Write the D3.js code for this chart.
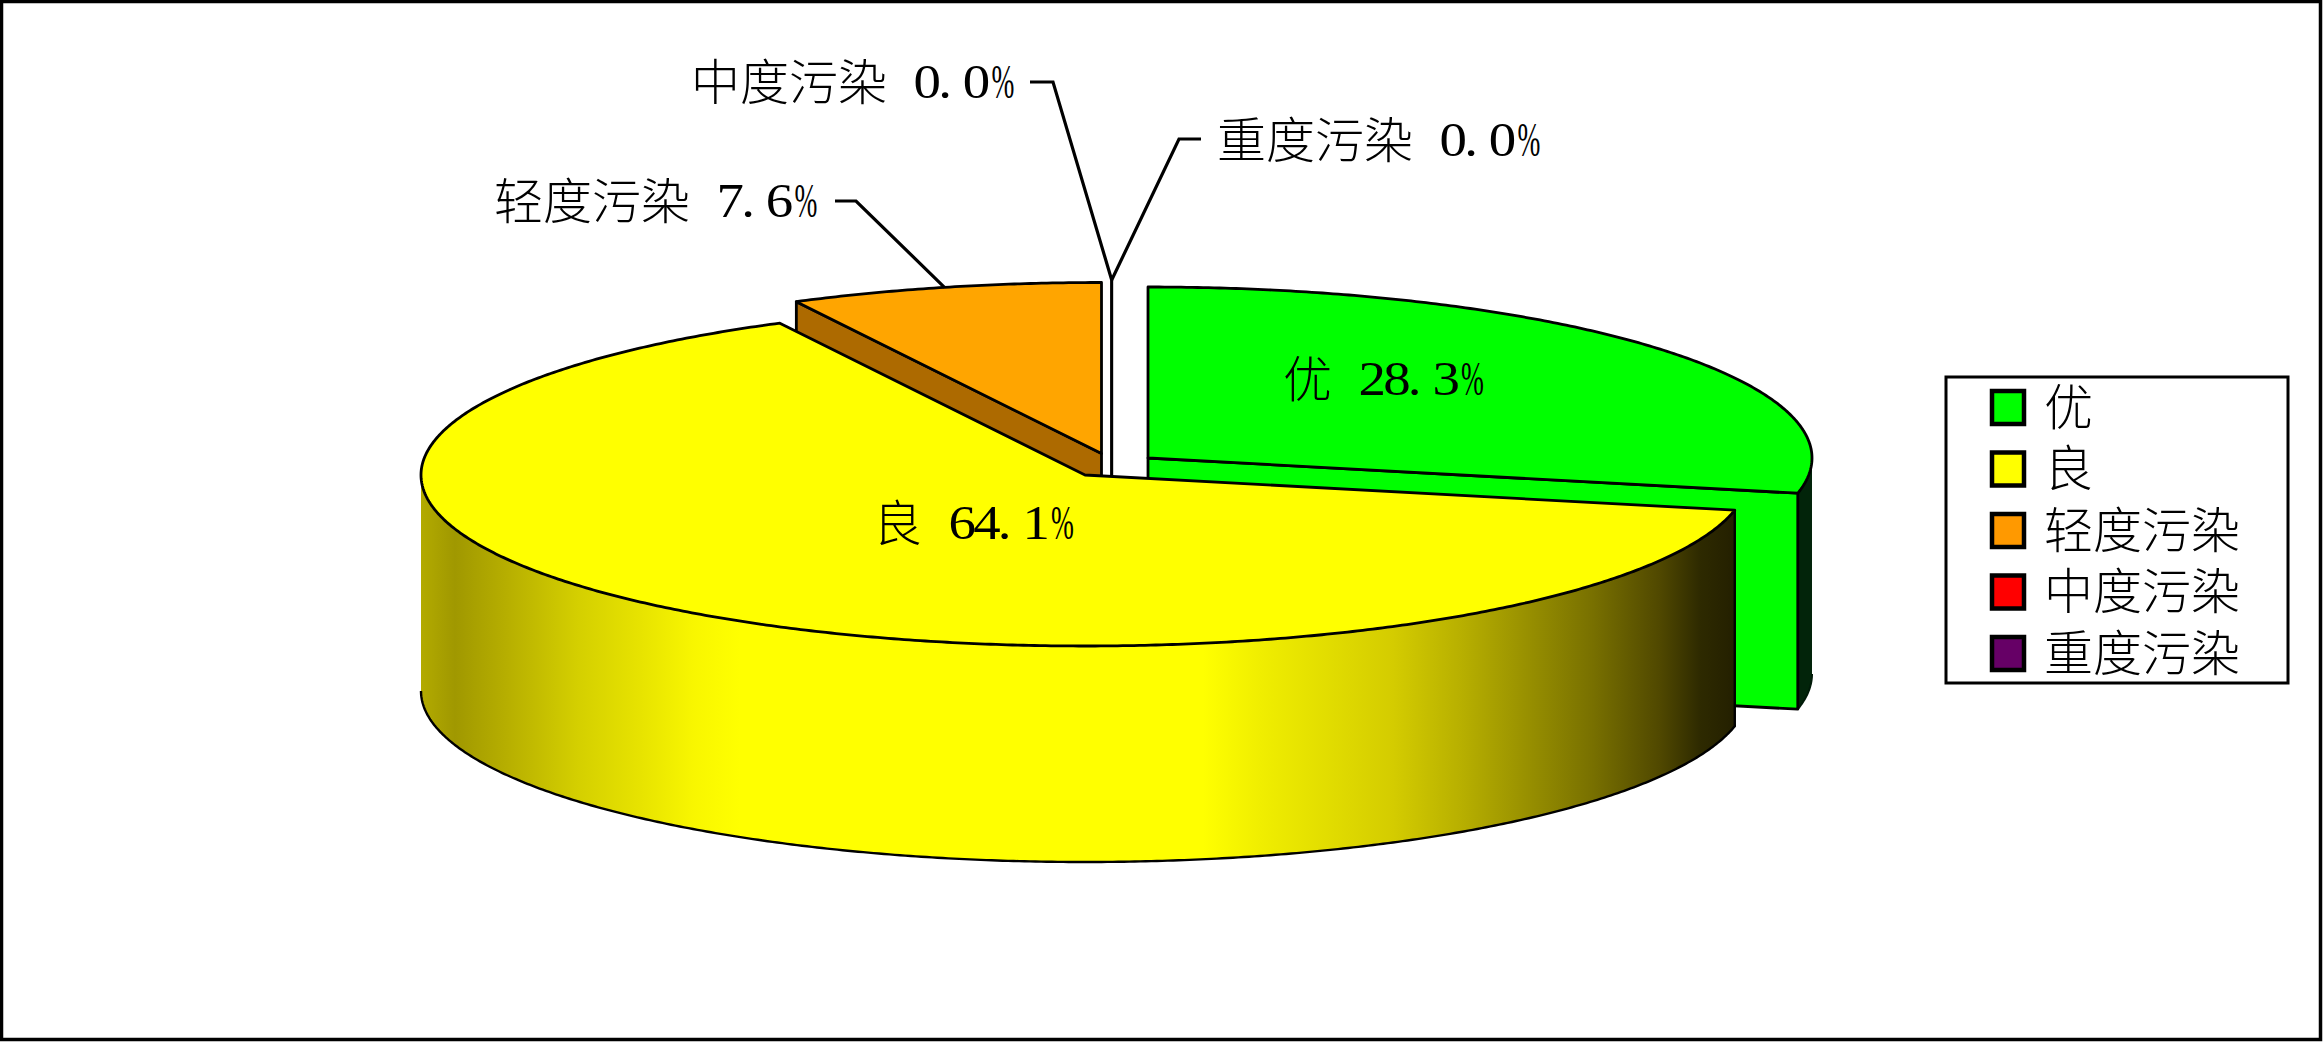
<!DOCTYPE html>
<html lang="zh">
<head>
    <meta charset="UTF-8" />
    <title>空气质量等级分布</title>
    <script src="https://d3js.org/d3.v7.min.js"></script>
    <style>
        html, body { margin: 0; padding: 0; background: #fff; overflow: hidden; }
        svg { display: block; }
        .cjk { font-family: "Liberation Serif", "Noto Sans CJK SC", sans-serif; font-size: 49px; font-weight: 300; fill: #000; }
        .num { font-family: "Liberation Serif", serif; font-size: 49px; fill: #000; }
    </style>
</head>
<body>
<div id="chart"></div>
<script>
    // Data
    const categories = ["优", "良", "轻度污染", "中度污染", "重度污染"];
    const values = [28.3, 64.1, 7.6, 0, 0];
    const colors = ["#00ff00", "#ffff00", "#ffa500", "#ff0000", "#660066"];
    const legendColors = ["#00ff00", "#ffff00", "#ff9900", "#ff0000", "#660066"];

    // Pie geometry
    const width = 2324, height = 1042;
    const rx = 664, ry = 171, depth = 216;
    const sliceCentres = [[1148, 458], [1085, 475], [1101.5, 453.5], [1111.7, 451], [1111.7, 451]];

    // Label placement: left edge and baseline, plus the elbow of the leader line
    const labelPos = [[1283, 395], [873, 539], [494, 217], [691, 98], [1217, 156]];
    const leaderElbow = [null, null, [[835, 201], [856, 201]], [[1030, 82], [1053, 82]], [[1201, 139], [1179, 139]]];

    const svg = d3.select("#chart").append("svg").attr("width", width).attr("height", height);
    svg.append("rect")
        .attr("x", 1.5).attr("y", 1.5).attr("width", 2319).attr("height", 1038)
        .attr("fill", "#fff").attr("stroke", "#000").attr("stroke-width", 3.5);

    // Horizontal shading of the yellow wall
    const shade = svg.append("defs").append("linearGradient")
        .attr("id", "yellowWall").attr("gradientUnits", "userSpaceOnUse")
        .attr("x1", 420).attr("x2", 1733).attr("y1", 0).attr("y2", 0);
    [[420, "#b3ab00"], [455, "#a09800"], [510, "#b8b000"], [577, "#d4cf00"], [643, "#e8e400"], [693, "#f8f600"], [740, "#ffff00"],
     [1203, "#ffff00"], [1260, "#f0ee00"], [1393, "#d4cc00"], [1460, "#b8b000"], [1527, "#989000"],
     [1593, "#787000"], [1660, "#504800"], [1700, "#2e2a00"], [1733, "#242000"]]
        .forEach(([x, c]) => shade.append("stop").attr("offset", (x - 420) / (1733 - 420)).attr("stop-color", c));

    const slices = d3.pie().sort(null).value(d => d)(values);
    const xScale = d3.scaleLinear().domain([-1, 1]).range([-rx, rx]);
    const yScale = d3.scaleLinear().domain([-1, 1]).range([-ry, ry]);
    const line = d3.line();

    // Point on the rim of slice i at clock angle a (0 = straight up, clockwise)
    function rim(i, a, drop = 0) {
        const c = sliceCentres[i];
        return [c[0] + xScale(Math.sin(a)), c[1] + yScale(-Math.cos(a)) + drop];
    }
    function arcPoints(i, a0, a1, drop = 0) {
        const n = Math.max(2, Math.ceil(Math.abs(a1 - a0) * 120));
        return d3.range(n + 1).map(k => rim(i, a0 + (a1 - a0) * k / n, drop));
    }
    function below(p) { return [p[0], p[1] + depth]; }

    function drawWall(i, a0, a1, fill) {
        const top = arcPoints(i, a0, a1);
        const bottom = arcPoints(i, a0, a1, depth);
        svg.append("path").attr("d", line(top.concat(bottom.slice().reverse())) + "Z").attr("fill", fill);
        return bottom;
    }
    function drawCut(i, a, fill) {
        const c = sliceCentres[i], p = rim(i, a);
        svg.append("path").attr("d", line([c, p, below(p), below(c)]) + "Z")
            .attr("fill", fill).attr("stroke", "#000").attr("stroke-width", 2.8).attr("stroke-linejoin", "round");
    }
    function drawTop(i) {
        const s = slices[i], c = sliceCentres[i];
        svg.append("path").attr("d", line([c].concat(arcPoints(i, s.startAngle, s.endAngle))) + "Z")
            .attr("fill", colors[i]).attr("stroke", "#000").attr("stroke-width", 2.8).attr("stroke-linejoin", "round");
    }

    // 优: dark outer wall, cut face, top
    const greenEnd = slices[0].endAngle;
    const greenBottom = drawWall(0, Math.PI / 2, greenEnd, "#02240a");
    svg.append("path").attr("d", line(greenBottom)).attr("fill", "none").attr("stroke", "#001a08").attr("stroke-width", 2);
    drawCut(0, greenEnd, colors[0]);
    drawTop(0);

    // 轻度污染: brown cut face, top
    drawCut(2, slices[2].startAngle, "#ad6a00");
    drawTop(2);

    // the two empty slices collapse to one line
    [3, 4].forEach(i => {
        const c = sliceCentres[i];
        svg.append("path").attr("d", line([below(c), c, rim(i, slices[i].startAngle)]))
            .attr("fill", "none").attr("stroke", "#000").attr("stroke-width", 2.8);
    });

    // 良: shaded wall and top go over everything else
    const yellowStart = slices[1].startAngle;
    const yellowBottom = drawWall(1, yellowStart, Math.PI * 1.5, "url(#yellowWall)");
    svg.append("path").attr("d", line([rim(1, yellowStart)].concat(yellowBottom)))
        .attr("fill", "none").attr("stroke", "#000").attr("stroke-width", 2.4);
    drawTop(1);

    // Leader lines run from the elbow to the middle of the slice's rim
    leaderElbow.forEach((elbow, i) => {
        if (!elbow) return;
        const mid = (slices[i].startAngle + slices[i].endAngle) / 2;
        svg.append("path").attr("d", line(elbow.concat([rim(i, mid)])))
            .attr("fill", "none").attr("stroke", "#000").attr("stroke-width", 3.2);
    });

    // Data labels: name, then the number in half-width cells as in the original font
    const cell = 24.6, zh = 49, digitStretch = 1.12, pctStretch = 0.56;
    categories.forEach((name, i) => {
        const [x, y] = labelPos[i];
        svg.append("text").attr("class", "cjk").attr("x", x).attr("y", y + 2).text(name);
        const x0 = x + name.length * zh + cell + 2;
        const digits = values[i].toFixed(1);
        svg.append("text").attr("class", "num")
            .attr("transform", `translate(${x0},${y}) scale(${digitStretch},1)`)
            .attr("x", digits.split("").map((d, k) => k * cell / digitStretch).join(" "))
            .text(digits);
        svg.append("text").attr("class", "num")
            .attr("transform", `translate(${x0 + digits.length * cell + 4},${y}) scale(${pctStretch},1)`)
            .text("%");
    });

    // Legend
    const legend = svg.append("g");
    legend.append("rect")
        .attr("x", 1946).attr("y", 377).attr("width", 342).attr("height", 306)
        .attr("fill", "#fff").attr("stroke", "#000").attr("stroke-width", 3);
    const rowY = d3.scalePoint().domain(categories).range([407.5, 653.5]);
    categories.forEach((name, i) => {
        legend.append("rect")
            .attr("x", 1992).attr("y", rowY(name) - 16.5).attr("width", 32).attr("height", 33)
            .attr("fill", legendColors[i]).attr("stroke", "#000").attr("stroke-width", 4.5);
        legend.append("text").attr("class", "cjk").attr("x", 2044).attr("y", rowY(name) + 17).text(name);
    });
</script>
</body>
</html>
